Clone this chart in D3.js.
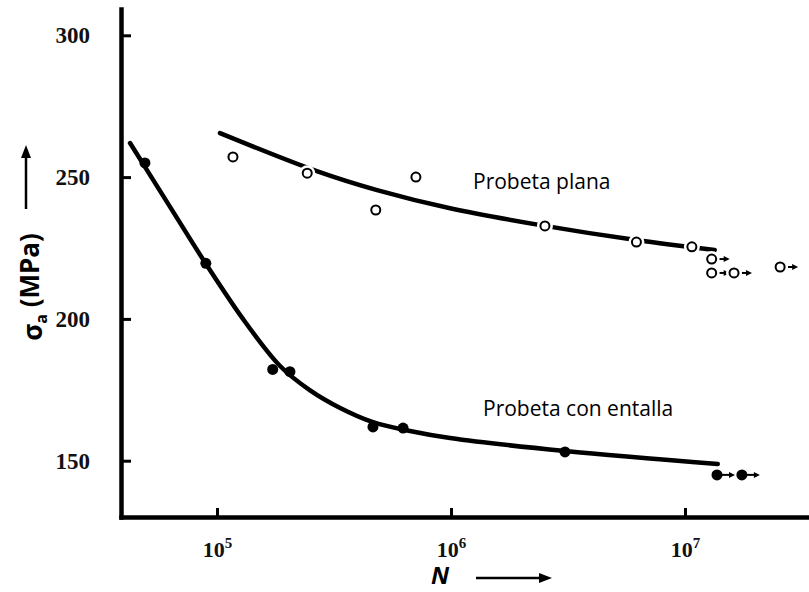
<!DOCTYPE html>
<html>
<head>
<meta charset="utf-8">
<script src="https://cdn.jsdelivr.net/npm/d3@7"></script>
<style>
  html, body { margin: 0; padding: 0; background: #fff; }
  svg { display: block; }
</style>
</head>
<body>
<svg id="chart" width="809" height="592"></svg>
<script>
// Fatigue (S-N) data: stress amplitude in MPa vs number of cycles N
const planaN     = [1.17e5, 2.43e5, 4.77e5, 7.08e5, 2.52e6, 6.2e6, 1.07e7, 1.30e7, 1.30e7, 1.62e7, 2.55e7];
const planaS     = [257.1, 251.4, 238.4, 250.0, 232.8, 227.1, 225.4, 221.1, 216.2, 216.2, 218.3];
const planaRunout = [false, false, false, false, false, false, false, true, true, true, true];

const entallaN     = [4.92e4, 8.96e4, 1.73e5, 2.05e5, 4.64e5, 6.24e5, 3.07e6, 1.37e7, 1.75e7];
const entallaS     = [255.0, 219.6, 182.2, 181.4, 161.9, 161.5, 153.1, 145.0, 145.0];
const entallaRunout = [false, false, false, false, false, false, false, true, true];

// Fitted trend curves (N, stress)
const planaFitN = [1.03e5, 2.67e5, 4.83e5, 9.91e5, 2.52e6, 6.18e6, 1.34e7];
const planaFitS = [265.5, 252.1, 245.4, 239.0, 232.8, 227.8, 224.3];
const entallaFitN = [4.25e4, 6.30e4, 8.97e4, 1.32e5, 1.86e5, 2.49e5, 3.36e5, 4.64e5, 6.68e5, 9.91e5, 3.07e6, 1.38e7];
const entallaFitS = [262.0, 239.5, 219.4, 198.9, 183.4, 174.9, 168.6, 163.6, 160.5, 158.0, 153.4, 148.8];

const xTicks = [1e5, 1e6, 1e7];
const yTicks = [150, 200, 250, 300];

const svg = d3.select("#chart");

// Frame
const frameL = 121, frameR = 809, frameT = 9, frameB = 517;

// Scales: decades anchored on the tick positions, extended to the frame
const xBase = d3.scaleLog().domain([1e5, 1e7]).range([217, 685]);
const x = d3.scaleLog().domain([xBase.invert(frameL), xBase.invert(frameR)]).range([frameL, frameR]);
const yBase = d3.scaleLinear().domain([150, 300]).range([460.7, 35.3]);
const y = d3.scaleLinear().domain([yBase.invert(frameB), yBase.invert(frameT)]).range([frameB, frameT]);

// Y axis (ticks pointing inward, labels on the left)
const yAxis = svg.append("g")
  .attr("transform", `translate(${frameL},0)`)
  .call(d3.axisLeft(y).tickValues(yTicks).tickSizeInner(-10).tickSizeOuter(0).tickPadding(31));
yAxis.select(".domain").attr("stroke", "#000").attr("stroke-width", 4.5).attr("stroke-linecap", "square");
yAxis.selectAll(".tick line").attr("stroke", "#000").attr("stroke-width", 3);
yAxis.selectAll(".tick text")
  .attr("font-family", "'Liberation Serif', 'Times New Roman', serif")
  .attr("font-weight", "bold").attr("font-size", 23).attr("fill", "#111");

// X axis
const xAxis = svg.append("g")
  .attr("transform", `translate(0,${frameB})`)
  .call(d3.axisBottom(x).tickValues(xTicks).tickSizeInner(-9).tickSizeOuter(0).tickPadding(24).tickFormat(() => ""));
xAxis.select(".domain").attr("stroke", "#000").attr("stroke-width", 4.5).attr("stroke-linecap", "square");
xAxis.selectAll(".tick line").attr("stroke", "#000").attr("stroke-width", 3);
xAxis.selectAll(".tick text").each(function(d) {
  const t = d3.select(this)
    .attr("font-family", "'Liberation Serif', 'Times New Roman', serif")
    .attr("font-weight", "bold").attr("font-size", 22).attr("fill", "#111");
  t.append("tspan").text("10");
  t.append("tspan").attr("font-size", 15).attr("dy", "-0.55em").text(String(Math.round(Math.log10(d))));
});

// Trend curves
const line = d3.line().x(d => x(d[0])).y(d => y(d[1])).curve(d3.curveCatmullRom.alpha(0.5));
svg.append("path").datum(d3.zip(planaFitN, planaFitS))
  .attr("d", line).attr("fill", "none").attr("stroke", "#000").attr("stroke-width", 4.5).attr("stroke-linecap", "round");
svg.append("path").datum(d3.zip(entallaFitN, entallaFitS))
  .attr("d", line).attr("fill", "none").attr("stroke", "#000").attr("stroke-width", 4.5).attr("stroke-linecap", "round");

// Run-out arrows (specimens that did not fail)
function runoutArrows(N, S, R, r) {
  const g = svg.append("g");
  d3.zip(N, S, R).filter(d => d[2]).forEach(d => {
    const cx = x(d[0]), cy = y(d[1]);
    g.append("line").attr("x1", cx + r).attr("x2", cx + r + 9).attr("y1", cy).attr("y2", cy)
      .attr("stroke", "#000").attr("stroke-width", 2);
    g.append("path").attr("d", `M${cx + r + 13},${cy} l-6,-3 l0,6 z`).attr("fill", "#000");
  });
}
runoutArrows(planaN, planaS, planaRunout, 5);
runoutArrows(entallaN, entallaS, entallaRunout, 5);

// Markers: white halo breaks the curve around each open point
const planaPts = d3.zip(planaN, planaS);
svg.append("g").selectAll("circle").data(planaPts).join("circle")
  .attr("cx", d => x(d[0])).attr("cy", d => y(d[1])).attr("r", 8).attr("fill", "#fff");
svg.append("g").selectAll("circle").data(planaPts).join("circle")
  .attr("cx", d => x(d[0])).attr("cy", d => y(d[1])).attr("r", 4.5)
  .attr("fill", "#fff").attr("stroke", "#000").attr("stroke-width", 2);

const entallaPts = d3.zip(entallaN, entallaS);
svg.append("g").selectAll("circle").data(entallaPts).join("circle")
  .attr("cx", d => x(d[0])).attr("cy", d => y(d[1])).attr("r", 5.5).attr("fill", "#000");

// Series labels
svg.append("text").attr("x", 473).attr("y", 189)
  .attr("font-family", "'Open Sans', sans-serif").attr("font-size", 21).attr("fill", "#000")
  .text("Probeta plana");
svg.append("text").attr("x", 483).attr("y", 416)
  .attr("font-family", "'Open Sans', sans-serif").attr("font-size", 21).attr("fill", "#000")
  .text("Probeta con entalla");

// Axis titles with arrows
const yt = svg.append("text")
  .attr("transform", "translate(42,287) rotate(-90)")
  .attr("text-anchor", "middle")
  .attr("font-family", "'Open Sans', sans-serif").attr("font-weight", "bold").attr("font-size", 26).attr("fill", "#000");
yt.append("tspan").text("σ");
yt.append("tspan").attr("font-size", 16).attr("dy", "0.3em").text("a");
yt.append("tspan").attr("dy", "-0.3em").text(" (MPa)");

svg.append("line").attr("x1", 26).attr("x2", 26).attr("y1", 209).attr("y2", 156)
  .attr("stroke", "#000").attr("stroke-width", 2.5);
svg.append("path").attr("d", "M26,145 l-5,13 l10,0 z").attr("fill", "#000");

svg.append("text").attr("x", 440).attr("y", 584).attr("text-anchor", "middle")
  .attr("font-family", "'Open Sans', sans-serif").attr("font-weight", "bold").attr("font-style", "italic")
  .attr("font-size", 24).attr("fill", "#000").text("N");
svg.append("line").attr("x1", 476).attr("x2", 540).attr("y1", 578).attr("y2", 578)
  .attr("stroke", "#000").attr("stroke-width", 2.5);
svg.append("path").attr("d", "M552,578 l-13,-5 l0,10 z").attr("fill", "#000");
</script>
</body>
</html>
